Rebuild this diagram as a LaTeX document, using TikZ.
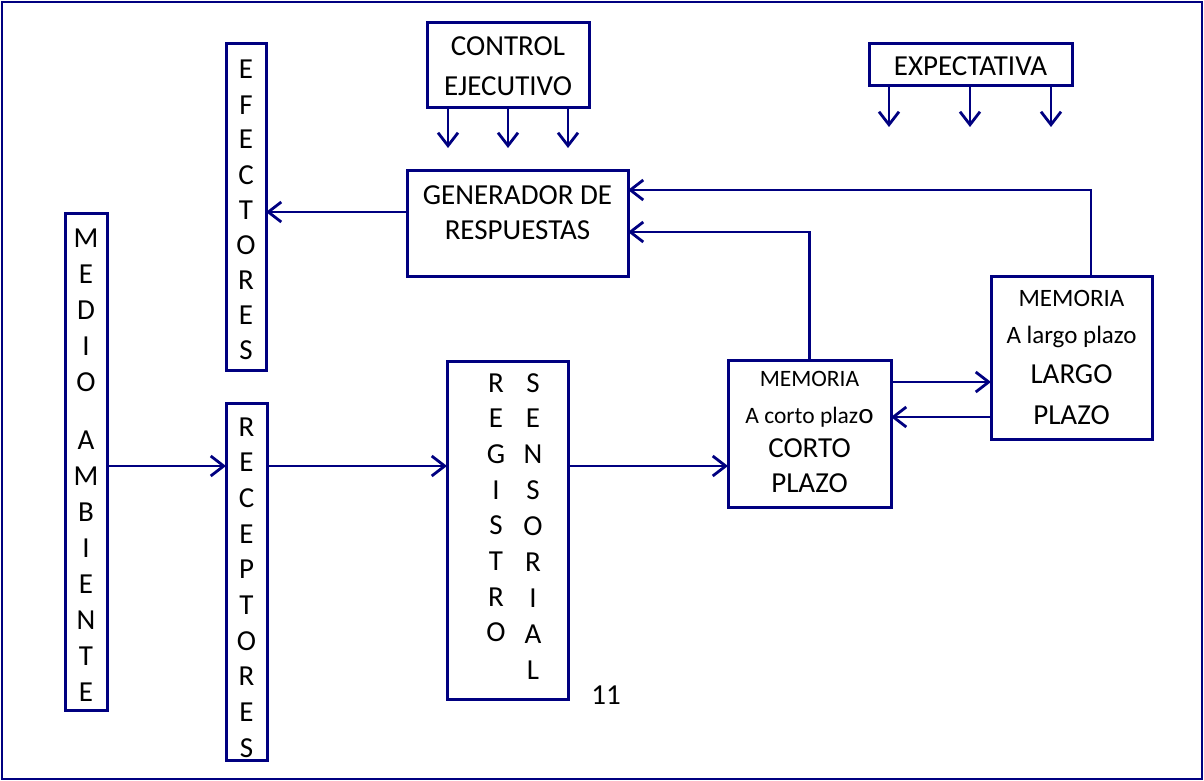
\documentclass[tikz,border=0pt]{standalone}
\usepackage{fontspec}
\setmainfont{Carlito}
\usetikzlibrary{arrows.meta}
\definecolor{navy}{RGB}{0,0,128}
\begin{document}
\begin{tikzpicture}[x=1pt,y=-1pt,
  box/.style={draw=navy,line width=3pt,inner sep=0pt,outer sep=0pt},
  arr/.style={draw=navy,line width=2.8pt,-{Straight Barb[length=13pt,width=20pt]}},
  big/.style={anchor=base,inner sep=0pt,font=\fontsize{29}{34}\selectfont},
  mid/.style={anchor=base,inner sep=0pt,font=\fontsize{25}{30}\selectfont},
  sml/.style={anchor=base,inner sep=0pt,font=\fontsize{23.5}{28}\selectfont}]
\useasboundingbox (0,0) rectangle (1204,781);
\draw[navy,line width=2.8pt] (2,2) rectangle (1202,779);

% boxes
\node[box,minimum width=40pt,minimum height=326pt] (efe) at (246,207) {};
\node[box,minimum width=162pt,minimum height=85pt] (ctrl) at (508,65.5) {};
\node[box,minimum width=203pt,minimum height=42pt] (expe) at (970.5,65) {};
\node[box,minimum width=221pt,minimum height=106pt] (gen) at (517.5,223) {};
\node[box,minimum width=42pt,minimum height=497pt] (med) at (86,461.5) {};
\node[box,minimum width=41pt,minimum height=357pt] (rec) at (246.5,581.5) {};
\node[box,minimum width=121pt,minimum height=338pt] (reg) at (507.5,530) {};
\node[box,minimum width=163pt,minimum height=147pt] (mcp) at (809.5,433.5) {};
\node[box,minimum width=161pt,minimum height=163pt] (mlp) at (1071.5,357.5) {};

% texts
\node[big] (tctrl1) at (508,56) {CONTROL};
\node[big] (tctrl2) at (508,96) {EJECUTIVO};
\node[big] (texp) at (970.5,76) {EXPECTATIVA};
\node[big] (tgen1) at (517.5,204) {GENERADOR DE};
\node[big] (tgen2) at (517.5,239) {RESPUESTAS};
\foreach \l [count=\i from 0] in {E,F,E,C,T,O,R,E,S}
  \node[big] at (246,{79+35*\i}) {\l};
\foreach \l [count=\i from 0] in {M,E,D,I,O}
  \node[big] at (86,{247+36*\i}) {\l};
\foreach \l [count=\i from 0] in {A,M,B,I,E,N,T,E}
  \node[big] at (86,{449+36*\i}) {\l};
\foreach \l [count=\i from 0] in {R,E,C,E,P,T,O,R,E,S}
  \node[big] at (246.5,{436+35.7*\i}) {\l};
\foreach \l [count=\i from 0] in {R,E,G,I,S,T,R,O}
  \node[big] at (496,{392+35.7*\i}) {\l};
\foreach \l [count=\i from 0] in {S,E,N,S,O,R,I,A,L}
  \node[big] at (533,{392+35.9*\i}) {\l};
\node[sml] (tm1) at (809.5,386.5) {MEMORIA};
\node[sml] (tm2) at (809.5,423.5) {A corto plaz{\fontsize{29}{34}\selectfont o}};
\node[big] (tm3) at (809.5,457) {CORTO};
\node[big] (tm4) at (809.5,492) {PLAZO};
\node[mid] (tl1) at (1071.5,306) {MEMORIA};
\node[mid] (tl2) at (1071.5,343) {A largo plazo};
\node[big] (tl3) at (1071.5,383) {LARGO};
\node[big] (tl4) at (1071.5,424) {PLAZO};
\node[big] (num) at (606,704) {11};

% free ends
\coordinate (c1) at (448,148);
\coordinate (c2) at (508,148);
\coordinate (c3) at (568,148);
\coordinate (e1) at (889,127);
\coordinate (e2) at (970,127);
\coordinate (e3) at (1051,127);

% connectors
\foreach \c in {c1,c2,c3} \draw[arr] (ctrl.south -| \c) -- (\c);
\foreach \c in {e1,e2,e3} \draw[arr] (expe.south -| \c) -- (\c);
\draw[arr] (gen.west |- 0,212) -- (efe.east |- 0,212);
\draw[arr] (med.east |- 0,466) -- (rec.west |- 0,466);
\draw[arr] (rec.east |- 0,466) -- (reg.west |- 0,466);
\draw[arr] (reg.east |- 0,466) -- (mcp.west |- 0,466);
\draw[arr] (mcp.east |- 0,382) -- (mlp.west |- 0,382);
\draw[arr] (mlp.west |- 0,417) -- (mcp.east |- 0,417);
\draw[arr] (mcp.north) |- (gen.east |- 0,232);
\draw[arr] (mlp.north -| 1091,0) |- (gen.east |- 0,190);
\end{tikzpicture}
\end{document}
